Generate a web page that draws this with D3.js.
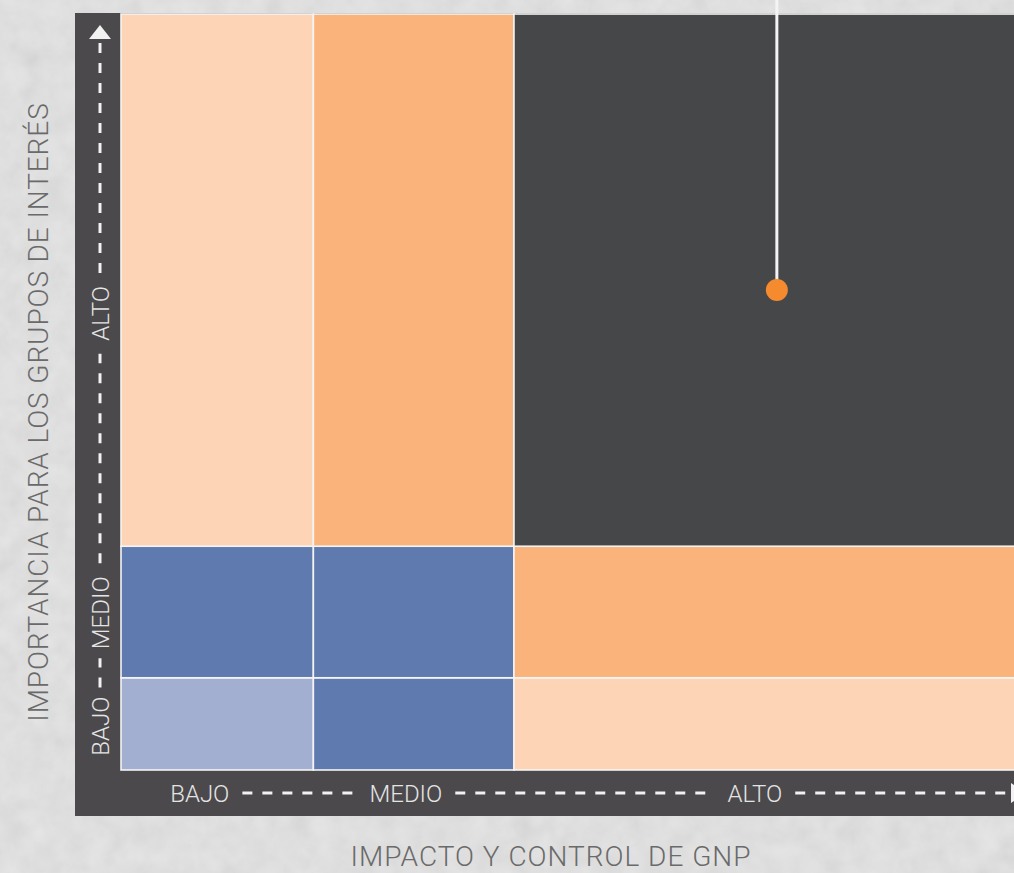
<!DOCTYPE html>
<html>
<head>
<meta charset="utf-8">
<script src="https://cdn.jsdelivr.net/npm/d3@7"></script>
<style>
  html, body { margin: 0; padding: 0; background: #e2e2e2; }
  svg { display: block; }
  text { font-family: Roboto, "Open Sans", sans-serif; }
</style>
</head>
<body>
<svg id="chart" width="1014" height="873"></svg>
<script>
// ---- data ------------------------------------------------------------
// Level names on both axes
const impactLevels = ["BAJO", "MEDIO", "ALTO"];       // impacto y control de GNP
const importanceLevels = ["BAJO", "MEDIO", "ALTO"];   // importancia para los grupos de interés

// Band limits on a 0–100 scale for each axis
const impactBreaks = [0, 21, 42.9, 100];
const importanceBreaks = [0, 12.2, 29.6, 100];

// Tone of every cell, rows from BAJO (bottom) to ALTO (top)
const cellTones = [
  ["paleBlue",   "blue",   "paleOrange"],
  ["blue",       "blue",   "orange"],
  ["paleOrange", "orange", "dark"]
];

// Highlighted position (impact, importance)
const markerImpact = [71.6];
const markerImportance = [63.5];

// Axis titles
const xTitle = "IMPACTO Y CONTROL DE GNP";
const yTitle = "IMPORTANCIA PARA LOS GRUPOS DE INTERÉS";

// ---- styles & layout ------------------------------------------------
const palette = {
  paleBlue: "#a3afd1",
  blue: "#5f7aaf",
  paleOrange: "#fdd5b6",
  orange: "#fbb37c",
  dark: "#464749"
};
const frameColor = "#4b494b";
const labelColor = "#e4e4e4";
const titleColor = "#6a6a6a";

const plot = { left: 121, right: 1037, top: 14, bottom: 770 };
const frame = { left: 75, top: 13, bottom: 816 };

// where the level labels sit along each axis (0–100 scale)
const xLabelAt = [8.6, 31.1, 69.2];
const yLabelAt = [5.8, 20.8, 60.4];

const svg = d3.select("#chart");

const x = d3.scaleLinear().domain([0, 100]).range([plot.left, plot.right]);
const y = d3.scaleLinear().domain([0, 100]).range([plot.bottom, plot.top]);

// ---- stone-like backdrop ---------------------------------------------
const defs = svg.append("defs");
const grain = defs.append("filter").attr("id", "grain")
  .attr("x", 0).attr("y", 0).attr("width", "100%").attr("height", "100%");
grain.append("feTurbulence").attr("type", "fractalNoise")
  .attr("baseFrequency", 0.045).attr("numOctaves", 4).attr("seed", 7);
grain.append("feColorMatrix").attr("type", "matrix")
  .attr("values", "0.33 0.33 0.33 0 0  0.33 0.33 0.33 0 0  0.33 0.33 0.33 0 0  0 0 0 0 1");

svg.append("rect").attr("width", 1014).attr("height", 873).attr("fill", "#e6e6e6");
svg.append("rect").attr("width", 1014).attr("height", 873)
  .attr("filter", "url(#grain)").attr("opacity", 0.16);

// ---- dark frame carrying both axes ----------------------------------
svg.append("rect")
  .attr("x", frame.left).attr("y", frame.top)
  .attr("width", 1014 - frame.left + 40)
  .attr("height", frame.bottom - frame.top)
  .attr("fill", frameColor);

// ---- matrix cells ----------------------------------------------------
const cells = [];
cellTones.forEach((row, ri) => {
  row.forEach((tone, ci) => {
    cells.push({
      x0: impactBreaks[ci], x1: impactBreaks[ci + 1],
      y0: importanceBreaks[ri], y1: importanceBreaks[ri + 1],
      tone
    });
  });
});

svg.append("g").selectAll("rect").data(cells).join("rect")
  .attr("x", d => x(d.x0))
  .attr("y", d => y(d.y1))
  .attr("width", d => x(d.x1) - x(d.x0))
  .attr("height", d => y(d.y0) - y(d.y1))
  .attr("fill", d => palette[d.tone])
  .attr("stroke", "#f4f4f4")
  .attr("stroke-width", 1.6);

// ---- highlighted point with its leader line --------------------------
const marks = markerImpact.map((v, i) => ({ ix: v, iy: markerImportance[i] }));
svg.append("g").selectAll("line").data(marks).join("line")
  .attr("x1", d => x(d.ix)).attr("x2", d => x(d.ix))
  .attr("y1", 0).attr("y2", d => y(d.iy))
  .attr("stroke", "#f4f4f4").attr("stroke-width", 3);
svg.append("g").selectAll("circle").data(marks).join("circle")
  .attr("cx", d => x(d.ix)).attr("cy", d => y(d.iy))
  .attr("r", 11).attr("fill", "#f58a2f");

// ---- axis level labels & dashed guides -------------------------------
const dash = "10,10";
const pad = 13;
const axisFont = 24;

// horizontal axis (inside bottom band)
const bandY = (plot.bottom + frame.bottom) / 2;
const xLabels = svg.append("g").selectAll("text").data(impactLevels).join("text")
  .attr("x", (d, i) => x(xLabelAt[i]))
  .attr("y", bandY)
  .attr("dy", "0.36em")
  .attr("text-anchor", "middle")
  .attr("fill", labelColor)
  .attr("font-size", axisFont)
  .attr("font-weight", 300)
  .text(d => d);

const xExt = [];
xLabels.each(function (d, i) {
  const w = this.getComputedTextLength();
  const c = x(xLabelAt[i]);
  xExt.push([c - w / 2, c + w / 2]);
});
const xArrowBase = 1011;
const xSegs = [
  [xExt[0][1] + pad, xExt[1][0] - pad],
  [xExt[1][1] + pad, xExt[2][0] - pad],
  [xExt[2][1] + pad, xArrowBase]
];
svg.append("g").selectAll("line").data(xSegs).join("line")
  .attr("x1", d => d[0]).attr("x2", d => d[1])
  .attr("y1", bandY).attr("y2", bandY)
  .attr("stroke", "#f2f2f2").attr("stroke-width", 3)
  .attr("stroke-dasharray", dash);
svg.append("path")
  .attr("d", `M${xArrowBase},${bandY - 10}L${xArrowBase + 15},${bandY}L${xArrowBase},${bandY + 10}Z`)
  .attr("fill", "#f2f2f2");

// vertical axis (inside left band)
const bandX = (frame.left + plot.left) / 2 + 2;
const yLabels = svg.append("g").selectAll("text").data(importanceLevels).join("text")
  .attr("transform", (d, i) => `translate(${bandX},${y(yLabelAt[i])}) rotate(-90)`)
  .attr("dy", "0.36em")
  .attr("text-anchor", "middle")
  .attr("fill", labelColor)
  .attr("font-size", axisFont)
  .attr("font-weight", 300)
  .text(d => d);

const yExt = [];
yLabels.each(function (d, i) {
  const w = this.getComputedTextLength();
  const c = y(yLabelAt[i]);
  yExt.push([c + w / 2, c - w / 2]); // [bottom, top]
});
const yArrowBase = 39;
const yPad = 9;
const ySegs = [
  [yExt[0][1] - yPad, yExt[1][0] + yPad],
  [yExt[1][1] - pad, yExt[2][0] + pad],
  [yExt[2][1] - pad, yArrowBase]
];
svg.append("g").selectAll("line").data(ySegs).join("line")
  .attr("x1", bandX).attr("x2", bandX)
  .attr("y1", d => d[0]).attr("y2", d => d[1])
  .attr("stroke", "#f2f2f2").attr("stroke-width", 3)
  .attr("stroke-dasharray", dash);
svg.append("path")
  .attr("d", `M${bandX - 11},${yArrowBase}L${bandX},${yArrowBase - 14}L${bandX + 11},${yArrowBase}Z`)
  .attr("fill", "#f2f2f2");

// ---- axis titles ------------------------------------------------------
svg.append("text")
  .attr("x", (plot.left + 981) / 2)
  .attr("y", 866)
  .attr("text-anchor", "middle")
  .attr("fill", titleColor)
  .attr("font-size", 28)
  .attr("font-weight", 300)
  .attr("letter-spacing", 1)
  .text(xTitle);

svg.append("text")
  .attr("transform", `translate(48,${(plot.top + 810) / 2}) rotate(-90)`)
  .attr("text-anchor", "middle")
  .attr("fill", titleColor)
  .attr("font-size", 28)
  .attr("font-weight", 300)
  .attr("letter-spacing", 0.9)
  .text(yTitle);
</script>
</body>
</html>
